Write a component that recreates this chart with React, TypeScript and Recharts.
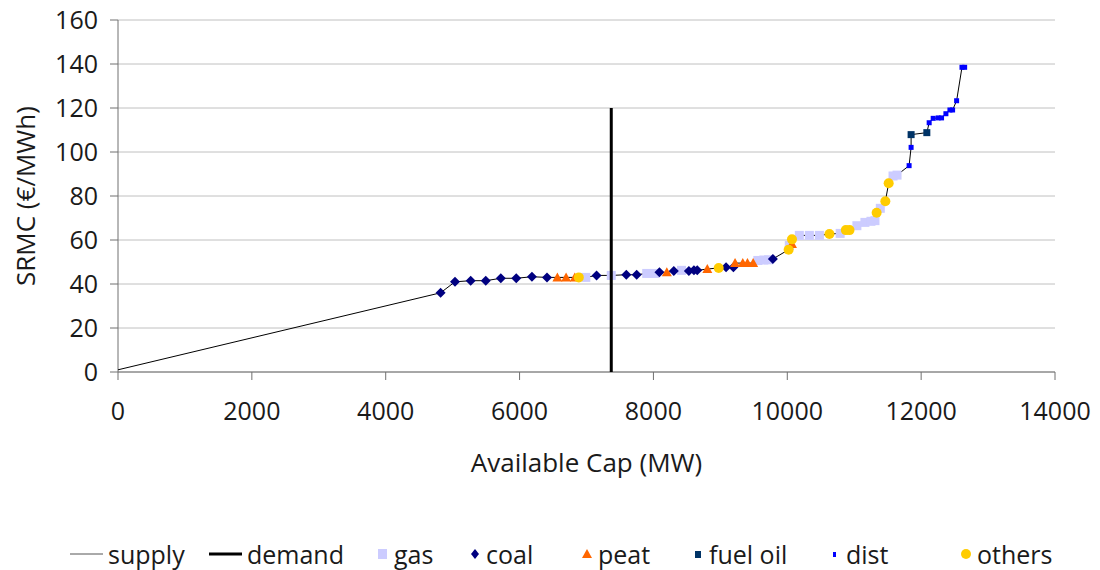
import React from "react";
import {
  ScatterChart,
  Scatter,
  XAxis,
  YAxis,
  CartesianGrid,
} from "recharts";

// values
const gasX = [6990, 7370, 7900, 8020, 8420, 9560, 9650, 9720, 10030, 10180, 10330, 10480, 10790, 11040, 11160, 11250, 11310, 11390, 11580, 11640];
const gasY = [43, 43.9, 44.8, 44.8, 46.2, 50.7, 50.9, 51, 57.5, 62.1, 62.1, 62.1, 63, 66.5, 68, 68.5, 68.8, 74.4, 89.1, 89.5];

const coalX = [4820, 5035, 5270, 5495, 5720, 5950, 6185, 6410, 7150, 7595, 7750, 8090, 8305, 8530, 8605, 8655, 9085, 9195, 9785];
const coalY = [36, 41, 41.5, 41.5, 42.6, 42.6, 43.3, 43, 43.9, 44.2, 44.2, 45.3, 45.9, 45.9, 46.2, 46.2, 47.6, 47.6, 51.4];

const peatX = [6565, 6695, 6825, 8200, 8805, 9220, 9335, 9405, 9490, 10070];
const peatY = [43, 43, 43, 45.3, 46.8, 49.5, 49.5, 49.5, 49.5, 58.2];

const fuelOilX = [11850, 12085];
const fuelOilY = [107.9, 108.8];

const distX = [11820, 11850, 12120, 12180, 12255, 12305, 12370, 12430, 12470, 12530, 12610, 12650];
const distY = [93.8, 102.1, 113.3, 115.3, 115.5, 115.5, 117.4, 119.1, 119.1, 123.3, 138.5, 138.5];

const othersX = [6885, 8975, 10020, 10070, 10630, 10875, 10930, 11335, 11465, 11515];
const othersY = [43, 47.3, 55.6, 60.3, 62.7, 64.5, 64.5, 72.4, 77.6, 85.8];

const supplyStart = { x: 0, y: 1 };
const demandCap = 7370;
const demandTop = 120;

const xTicks = [0, 2000, 4000, 6000, 8000, 10000, 12000, 14000];
const yTicks = [0, 20, 40, 60, 80, 100, 120, 140, 160];

const FONT = "'Open Sans', sans-serif";
const TEXT = "#1a1a1a";

const zip = (xs: number[], ys: number[]) => xs.map((x, i) => ({ x, y: ys[i] }));

const gas = zip(gasX, gasY);
const coal = zip(coalX, coalY);
const peat = zip(peatX, peatY);
const fuelOil = zip(fuelOilX, fuelOilY);
const dist = zip(distX, distY);
const others = zip(othersX, othersY);

const supply = [supplyStart, ...gas, ...coal, ...peat, ...fuelOil, ...dist, ...others].sort(
  (a, b) => a.x - b.x || a.y - b.y
);
const demand = [
  { x: demandCap, y: 0 },
  { x: demandCap, y: demandTop },
];

const noMark = () => <g />;

const GasMark = ({ cx, cy }: any) => (
  <rect x={cx - 4.5} y={cy - 4.5} width={9} height={9} fill="#ccccff" />
);
const CoalMark = ({ cx, cy }: any) => (
  <path d={`M${cx},${cy - 5}L${cx + 5},${cy}L${cx},${cy + 5}L${cx - 5},${cy}Z`} fill="#000080" />
);
const PeatMark = ({ cx, cy }: any) => (
  <path d={`M${cx},${cy - 5}L${cx + 5},${cy + 4}L${cx - 5},${cy + 4}Z`} fill="#ff6600" />
);
const FuelOilMark = ({ cx, cy }: any) => (
  <rect x={cx - 3.5} y={cy - 3.5} width={7} height={7} fill="#003366" />
);
const DistMark = ({ cx, cy }: any) => (
  <rect x={cx - 2.5} y={cy - 2.5} width={5} height={5} fill="#0000ff" />
);
const OthersMark = ({ cx, cy }: any) => <circle cx={cx} cy={cy} r={5} fill="#ffcc00" />;

const YTitle = ({ viewBox }: any) => {
  const cy = viewBox.y + viewBox.height / 2;
  return (
    <text
      x={25}
      y={cy}
      transform={`rotate(-90 25 ${cy})`}
      textAnchor="middle"
      dominantBaseline="central"
      fontFamily={FONT}
      fontSize={26}
      fill={TEXT}
    >
      SRMC (€/MWh)
    </text>
  );
};

const XTitle = ({ viewBox }: any) => (
  <text
    x={viewBox.x + viewBox.width / 2}
    y={462}
    textAnchor="middle"
    dominantBaseline="central"
    fontFamily={FONT}
    fontSize={26}
    fill={TEXT}
  >
    Available Cap (MW)
  </text>
);

const legendItems: { label: string; left: number; icon: React.ReactNode }[] = [
  { label: "supply", left: 70, icon: <svg width={33} height={10}><line x1={0} y1={5} x2={33} y2={5} stroke="#555" strokeWidth={1} /></svg> },
  { label: "demand", left: 209, icon: <svg width={33} height={10}><line x1={0} y1={5} x2={33} y2={5} stroke="#000" strokeWidth={3} /></svg> },
  { label: "gas", left: 377, icon: <svg width={12} height={12}><rect x={1} y={1} width={9} height={10} fill="#ccccff" /></svg> },
  { label: "coal", left: 469, icon: <svg width={12} height={12}><path d="M6,1L10,6L6,11L2,6Z" fill="#000080" /></svg> },
  { label: "peat", left: 581, icon: <svg width={12} height={12}><path d="M6,1L11,10L1,10Z" fill="#ff6600" /></svg> },
  { label: "fuel oil", left: 692, icon: <svg width={12} height={12}><rect x={3} y={3} width={6} height={7} fill="#003366" /></svg> },
  { label: "dist", left: 829, icon: <svg width={12} height={12}><rect x={4} y={4} width={3} height={5} fill="#0000ff" /></svg> },
  { label: "others", left: 960, icon: <svg width={12} height={12}><circle cx={6} cy={6} r={5} fill="#ffcc00" /></svg> },
];

function ChartLegend() {
  return (
    <div style={{ position: "absolute", left: 0, top: 537, width: 1100, height: 36, fontFamily: FONT, fontSize: 25, color: TEXT }}>
      {legendItems.map((it) => (
        <div
          key={it.label}
          style={{ position: "absolute", left: it.left, top: 0, display: "flex", alignItems: "center", whiteSpace: "nowrap" }}
        >
          <span style={{ display: "inline-flex", marginRight: 5 }}>{it.icon}</span>
          <span>{it.label}</span>
        </div>
      ))}
    </div>
  );
}

export default function App() {
  const tick = { fontFamily: FONT, fontSize: 25, fill: TEXT };
  return (
    <div style={{ position: "absolute", left: 0, top: 0, width: 1100, height: 570, background: "#fff" }}>
      <ScatterChart width={1100} height={570} margin={{ top: 20, right: 45, bottom: 0, left: 0 }}>
        <CartesianGrid vertical={false} stroke="#c0c0c0" />
        <XAxis
          type="number"
          dataKey="x"
          domain={[0, 14000]}
          ticks={xTicks}
          interval={0}
          tick={tick}
          tickSize={8}
          tickMargin={22}
          stroke="#707070"
          height={198}
          label={<XTitle />}
        />
        <YAxis
          type="number"
          dataKey="y"
          domain={[0, 160]}
          ticks={yTicks}
          interval={0}
          tick={tick}
          tickSize={8}
          tickMargin={12}
          stroke="#707070"
          width={118}
          label={<YTitle />}
        />
        <Scatter data={supply} line={{ stroke: "#000", strokeWidth: 1 }} lineType="joint" shape={noMark} isAnimationActive={false} />
        <Scatter data={gas} shape={GasMark} isAnimationActive={false} />
        <Scatter data={demand} line={{ stroke: "#000", strokeWidth: 3 }} lineType="joint" shape={noMark} isAnimationActive={false} />
        <Scatter data={coal} shape={CoalMark} isAnimationActive={false} />
        <Scatter data={peat} shape={PeatMark} isAnimationActive={false} />
        <Scatter data={fuelOil} shape={FuelOilMark} isAnimationActive={false} />
        <Scatter data={dist} shape={DistMark} isAnimationActive={false} />
        <Scatter data={others} shape={OthersMark} isAnimationActive={false} />
      </ScatterChart>
      <ChartLegend />
    </div>
  );
}
